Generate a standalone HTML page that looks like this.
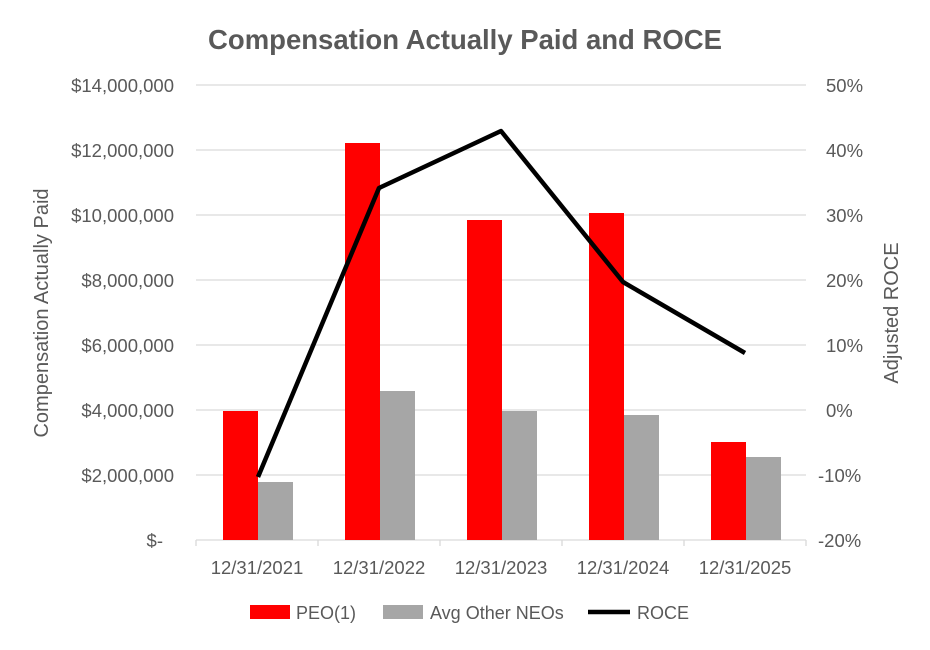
<!DOCTYPE html>
<html><head><style>
body{margin:0;background:#fff;}
svg text{font-family:"Liberation Sans",sans-serif;}
</style></head><body>
<svg width="930" height="645" viewBox="0 0 930 645" xmlns="http://www.w3.org/2000/svg">
<rect width="930" height="645" fill="#fff"/>
<text x="465" y="49" text-anchor="middle" font-size="27.5" font-weight="bold" fill="#595959">Compensation Actually Paid and ROCE</text>
<g stroke="#d9d9d9" stroke-width="1.3">
<line x1="196" x2="806" y1="85" y2="85"/>
<line x1="196" x2="806" y1="150" y2="150"/>
<line x1="196" x2="806" y1="215" y2="215"/>
<line x1="196" x2="806" y1="280" y2="280"/>
<line x1="196" x2="806" y1="345" y2="345"/>
<line x1="196" x2="806" y1="410" y2="410"/>
<line x1="196" x2="806" y1="475" y2="475"/>
<line x1="196" x2="806" y1="540" y2="540"/>
<line x1="196" x2="196" y1="540" y2="546"/>
<line x1="318" x2="318" y1="540" y2="546"/>
<line x1="440" x2="440" y1="540" y2="546"/>
<line x1="562" x2="562" y1="540" y2="546"/>
<line x1="684" x2="684" y1="540" y2="546"/>
<line x1="806" x2="806" y1="540" y2="546"/>
</g>
<g fill="#ff0000">
<rect x="223" y="411" width="35" height="129"/>
<rect x="345" y="143" width="35" height="397"/>
<rect x="467" y="220" width="35" height="320"/>
<rect x="589" y="213" width="35" height="327"/>
<rect x="711" y="442" width="35" height="98"/>
</g>
<g fill="#a6a6a6">
<rect x="258" y="482" width="35" height="58"/>
<rect x="380" y="391" width="35" height="149"/>
<rect x="502" y="411" width="35" height="129"/>
<rect x="624" y="415" width="35" height="125"/>
<rect x="746" y="457" width="35" height="83"/>
</g>
<polyline points="258,477 379,188 501,131 623,282 745,353" fill="none" stroke="#000" stroke-width="4.5" stroke-linejoin="round"/>
<g font-size="18.5" fill="#595959" text-anchor="end">
<text x="174" y="92">$14,000,000</text>
<text x="174" y="157">$12,000,000</text>
<text x="174" y="222">$10,000,000</text>
<text x="174" y="287">$8,000,000</text>
<text x="174" y="352">$6,000,000</text>
<text x="174" y="417">$4,000,000</text>
<text x="174" y="482">$2,000,000</text>
<text x="163" y="547">$-</text>
</g>
<g font-size="18.5" fill="#595959" text-anchor="start">
<text x="826" y="92">50%</text>
<text x="826" y="157">40%</text>
<text x="826" y="222">30%</text>
<text x="826" y="287">20%</text>
<text x="826" y="352">10%</text>
<text x="826" y="417">0%</text>
<text x="818" y="482">-10%</text>
<text x="818" y="547">-20%</text>
</g>
<g font-size="18.5" fill="#595959" text-anchor="middle">
<text x="257" y="574">12/31/2021</text>
<text x="379" y="574">12/31/2022</text>
<text x="501" y="574">12/31/2023</text>
<text x="623" y="574">12/31/2024</text>
<text x="745" y="574">12/31/2025</text>
</g>
<text transform="translate(48,313) rotate(-90)" text-anchor="middle" font-size="20" fill="#595959">Compensation Actually Paid</text>
<text transform="translate(898,313) rotate(-90)" text-anchor="middle" font-size="20" fill="#595959">Adjusted ROCE</text>
<rect x="250" y="605" width="40" height="14" fill="#ff0000"/>
<text x="296" y="619" font-size="18" fill="#595959">PEO(1)</text>
<rect x="383" y="605" width="40" height="14" fill="#a6a6a6"/>
<text x="430" y="619" font-size="18" fill="#595959">Avg Other NEOs</text>
<line x1="588" x2="630" y1="612" y2="612" stroke="#000" stroke-width="4.5"/>
<text x="637" y="619" font-size="18" fill="#595959">ROCE</text>
</svg>
</body></html>
